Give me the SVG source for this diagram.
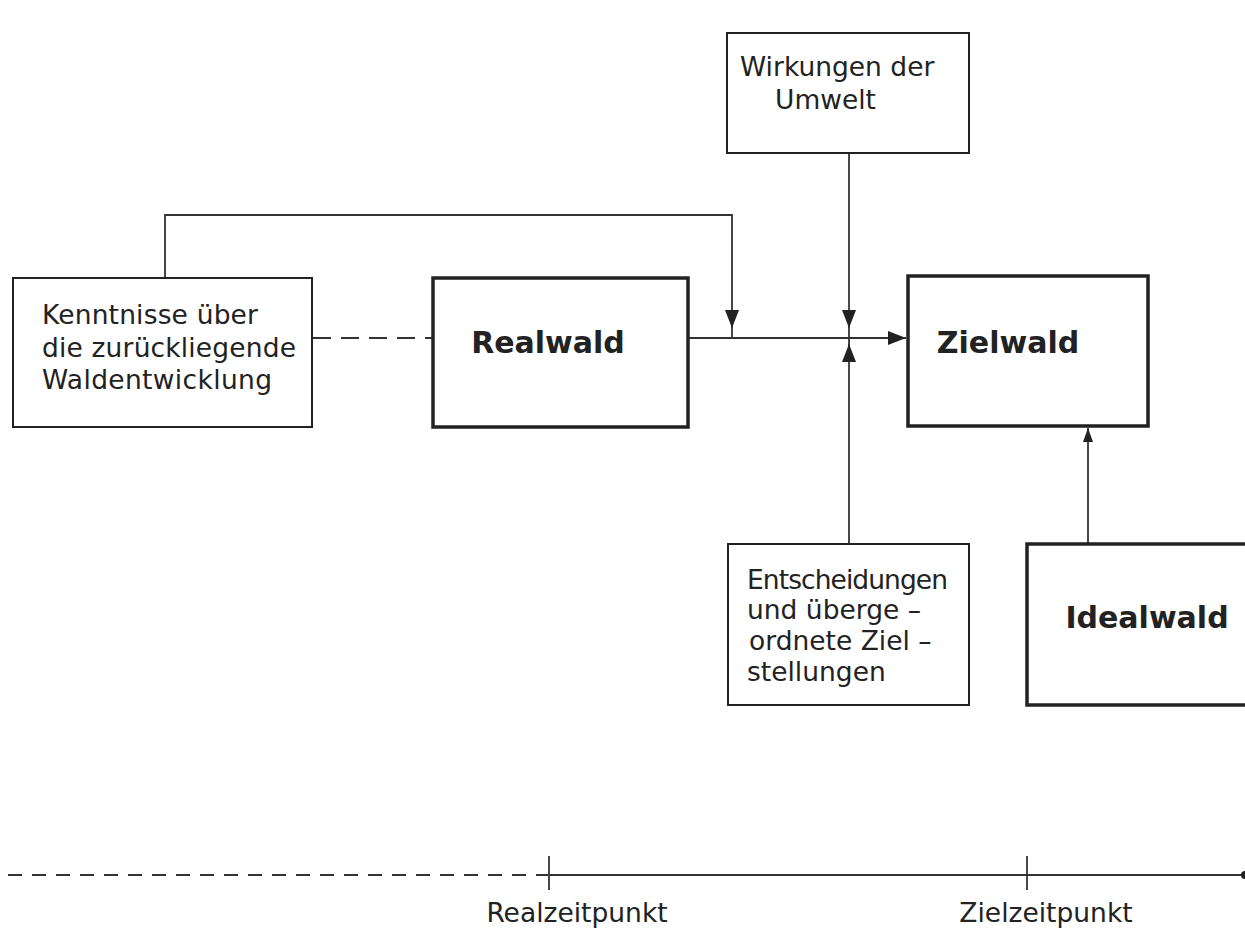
<svg xmlns="http://www.w3.org/2000/svg" width="1245" height="929" viewBox="0 0 1245 929">
<style>
.bg{fill:#fff}
.thin{fill:#fff;stroke:#222;stroke-width:2}
.thick{fill:#fff;stroke:#222;stroke-width:3.5}
.ln{fill:none;stroke:#333;stroke-width:1.8}
.t{font-family:"DejaVu Sans","Liberation Sans",sans-serif;font-size:26.5px;fill:#222}
.b{font-family:"DejaVu Sans","Liberation Sans",sans-serif;font-size:30px;font-weight:bold;fill:#222}
</style>
<defs>
<marker id="ah" viewBox="0 0 18 14" refX="18" refY="7" markerWidth="18" markerHeight="14" markerUnits="userSpaceOnUse" orient="auto">
<path d="M0,0 L18,7 L0,14 z" fill="#222"/>
</marker>
<marker id="ahs" viewBox="0 0 14 10" refX="14" refY="5" markerWidth="14" markerHeight="10" markerUnits="userSpaceOnUse" orient="auto">
<path d="M0,0 L14,5 L0,10 z" fill="#222"/>
</marker>
</defs>
<rect class="bg" width="1245" height="929"/>
<g id="connectors">
<path class="ln" d="M165,278 V215 H732 V328" marker-end="url(#ah)"/>
<line class="ln" x1="732" y1="326" x2="732" y2="338"/>
<line class="ln" x1="313" y1="338" x2="432" y2="338" stroke-dasharray="18,10"/>
<path class="ln" d="M688,338 H906" marker-end="url(#ah)"/>
<path class="ln" d="M849,153 V328" marker-end="url(#ah)"/>
<line class="ln" x1="849" y1="326" x2="849" y2="350"/>
<path class="ln" d="M849,544 V344" marker-end="url(#ah)"/>
<path class="ln" d="M1088,543 V428" marker-end="url(#ahs)"/>
</g>
<g id="kenntnisse">
<rect class="thin" x="13" y="278" width="299" height="149"/>
<text class="t" x="42" y="324" textLength="216" lengthAdjust="spacing">Kenntnisse über</text>
<text class="t" x="42" y="357" textLength="254" lengthAdjust="spacing">die zurückliegende</text>
<text class="t" x="42" y="389" textLength="230" lengthAdjust="spacing">Waldentwicklung</text>
</g>
<g id="realwald">
<rect class="thick" x="433" y="278" width="255" height="149"/>
<text class="b" x="548" y="353" text-anchor="middle">Realwald</text>
</g>
<g id="wirkungen">
<rect class="thin" x="727" y="33" width="242" height="120"/>
<text class="t" x="740" y="76">Wirkungen der</text>
<text class="t" x="775" y="109">Umwelt</text>
</g>
<g id="zielwald">
<rect class="thick" x="908" y="276" width="240" height="150"/>
<text class="b" x="1008" y="353" text-anchor="middle">Zielwald</text>
</g>
<g id="entscheidungen">
<rect class="thin" x="728" y="544" width="241" height="161"/>
<text class="t" x="747" y="589" textLength="201" lengthAdjust="spacing">Entscheidungen</text>
<text class="t" x="747" y="619">und überge –</text>
<text class="t" x="749" y="650">ordnete Ziel –</text>
<text class="t" x="747" y="681">stellungen</text>
</g>
<g id="idealwald">
<rect class="thick" x="1027" y="544" width="240" height="161"/>
<text class="b" x="1147" y="628" text-anchor="middle">Idealwald</text>
</g>
<g id="timeline">
<line class="ln" x1="8" y1="875" x2="548" y2="875" stroke-dasharray="14,10" stroke-width="2.5"/>
<line class="ln" x1="549" y1="875" x2="1245" y2="875" stroke-width="2.8"/>
<circle cx="1245" cy="875" r="4" fill="#222"/>
<line class="ln" x1="549" y1="856" x2="549" y2="890"/>
<line class="ln" x1="1027" y1="856" x2="1027" y2="890"/>
<text class="t" x="577" y="922" text-anchor="middle">Realzeitpunkt</text>
<text class="t" x="1046" y="922" text-anchor="middle">Zielzeitpunkt</text>
</g>
</svg>
